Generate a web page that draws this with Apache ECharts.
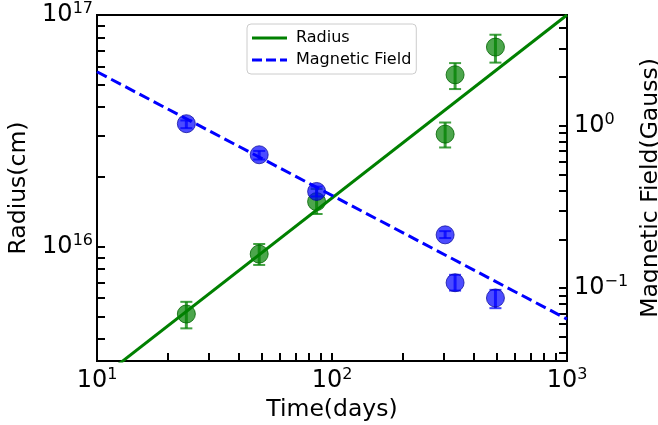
<!DOCTYPE html>
<html><head><meta charset="utf-8">
<script src="https://cdn.jsdelivr.net/npm/echarts@6/dist/echarts.min.js"></script>
<style>html,body{margin:0;padding:0;background:#fff}#c{width:658px;height:425px}</style>
</head><body><div id="c"></div>
<script>
// ---- data ----
const days = [24, 49, 86, 303, 334, 496];
const radius = [5.12e15, 9.29e15, 1.565e16, 3.06e16, 5.52e16, 7.27e16];
const radiusLow = [4.44e15, 8.34e15, 1.384e16, 2.68e16, 4.79e16, 6.23e16];
const radiusHigh = [5.78e15, 1.027e16, 1.775e16, 3.435e16, 6.20e16, 8.22e16];
const field = [1.03, 0.663, 0.394, 0.213, 0.108, 0.087];
const fieldLow = [0.967, 0.62, 0.367, 0.2035, 0.0966, 0.0753];
const fieldHigh = [1.078, 0.70, 0.422, 0.2245, 0.1208, 0.0976];
const radiusFitDays = [10, 1000];
const radiusFit = [2.63e15, 1e17];
const fieldFitDays = [10, 1000];
const fieldFit = [2.15, 0.0645];
const xTicks = [10, 20, 30, 40, 50, 60, 70, 80, 90, 100, 200, 300, 400, 500, 600, 700, 800, 900, 1000];
const xLabels = [10, 100, 1000];
const leftTicks = [4e15, 5e15, 6e15, 7e15, 8e15, 9e15, 1e16, 2e16, 3e16, 4e16, 5e16, 6e16, 7e16, 8e16, 9e16, 1e17];
const leftLabels = [1e16, 1e17];
const rightTicks = [0.04, 0.05, 0.06, 0.07, 0.08, 0.09, 0.1, 0.2, 0.3, 0.4, 0.5, 0.6, 0.7, 0.8, 0.9, 1, 2, 3, 4];
const rightLabels = [0.1, 1];

const FONT = 'DejaVu Sans';
const rich = {
  b: {fontSize: 24, fontFamily: FONT, color: '#000', lineHeight: 28},
  s: {fontSize: 16, fontFamily: FONT, color: '#000', lineHeight: 16, verticalAlign: 'top'}
};
function powLabel(v) {
  const e = Math.round(Math.log10(v));
  return '{b|10}{s|' + (e < 0 ? '\u2212' + (-e) : e) + '}';
}
function errRender(color) {
  return function (params, api) {
    const x = api.value(0), lo = api.value(1), hi = api.value(2);
    const p1 = api.coord([x, lo]);
    const p2 = api.coord([x, hi]);
    const cw = 6;
    return {type: 'group', children: [
      {type: 'line', shape: {x1: p1[0], y1: p1[1], x2: p2[0], y2: p2[1]}, style: {stroke: color, lineWidth: 3}},
      {type: 'line', shape: {x1: p1[0] - cw, y1: p1[1], x2: p1[0] + cw, y2: p1[1]}, style: {stroke: color, lineWidth: 2}},
      {type: 'line', shape: {x1: p2[0] - cw, y1: p2[1], x2: p2[0] + cw, y2: p2[1]}, style: {stroke: color, lineWidth: 2}}
    ]};
  };
}
const tickStyle = {show: true, inside: true, length: 8, lineStyle: {color: '#000', width: 2}};
const TITLE = {fontFamily: FONT, fontSize: 23.5, color: '#000'};
const chart = echarts.init(document.getElementById('c'));
chart.setOption({
  animation: false,
  backgroundColor: '#fff',
  grid: {left: 97, right: 91, top: 15, bottom: 64, containLabel: false, outerBoundsMode: 'none',
         show: true, borderColor: '#000', borderWidth: 2, backgroundColor: 'transparent'},
  legend: {
    data: [
      {name: 'Radius', icon: 'path://M0,0h35v3h-35z', itemStyle: {color: '#008000'}},
      {name: 'Magnetic Field', icon: 'path://M0,0h10v3h-10zM14,0h10v3h-10zM28,0h7v3h-7z', itemStyle: {color: '#0000ff'}}
    ],
    orient: 'vertical', left: 247, top: 24,
    backgroundColor: 'rgba(255,255,255,0.8)', borderColor: '#cccccc', borderWidth: 1, borderRadius: 4,
    padding: [6, 5, 6, 5], itemGap: 6, itemWidth: 35, itemHeight: 3,
    textStyle: {fontFamily: FONT, fontSize: 16, color: '#000', padding: [0, 0, 0, 4]}
  },
  xAxis: {
    type: 'log', logBase: 10, min: 10, max: 1000,
    name: 'Time(days)', nameLocation: 'middle', nameGap: 36,
    nameTextStyle: TITLE,
    axisLine: {show: true, lineStyle: {color: '#000', width: 2}},
    axisTick: Object.assign({customValues: xTicks}, tickStyle),
    minorTick: {show: false},
    splitLine: {show: false},
    axisLabel: {customValues: xLabels, formatter: powLabel, rich: rich, margin: 6}
  },
  yAxis: [{
    type: 'log', logBase: 10, min: 3.21e15, max: 1e17, position: 'left',
    name: 'Radius(cm)', nameLocation: 'middle', nameGap: 66, nameRotate: 90,
    nameTextStyle: TITLE,
    axisLine: {show: true, lineStyle: {color: '#000', width: 2}},
    axisTick: Object.assign({customValues: leftTicks}, tickStyle),
    splitLine: {show: false},
    axisLabel: {customValues: leftLabels, formatter: powLabel, rich: rich, margin: 4}
  }, {
    type: 'log', logBase: 10, min: 0.0356, max: 4.81, position: 'right',
    name: 'Magnetic Field(Gauss)', nameLocation: 'middle', nameGap: 70, nameRotate: 90,
    nameTextStyle: TITLE,
    axisLine: {show: true, lineStyle: {color: '#000', width: 2}},
    axisTick: Object.assign({customValues: rightTicks}, tickStyle),
    splitLine: {show: false},
    axisLabel: {customValues: rightLabels, formatter: powLabel, rich: rich, margin: 7}
  }],
  series: [
    {type: 'custom', name: 'radiusErr', yAxisIndex: 0, z: 2, renderItem: errRender('rgba(0,128,0,0.75)'),
     data: days.map((d, i) => [d, radiusLow[i], radiusHigh[i]])},
    {type: 'scatter', name: 'radiusPts', yAxisIndex: 0, z: 3, symbolSize: 18,
     itemStyle: {color: 'rgba(0,128,0,0.7)', borderColor: 'rgba(0,100,0,0.8)', borderWidth: 1, opacity: 1},
     data: days.map((d, i) => [d, radius[i]])},
    {type: 'line', name: 'Radius', yAxisIndex: 0, z: 4, symbol: 'none', showSymbol: false,
     lineStyle: {color: '#008000', width: 3}, itemStyle: {color: '#008000'},
     data: radiusFitDays.map((d, i) => [d, radiusFit[i]])},
    {type: 'custom', name: 'fieldErr', yAxisIndex: 1, z: 5, renderItem: errRender('rgba(0,0,255,0.75)'),
     data: days.map((d, i) => [d, fieldLow[i], fieldHigh[i]])},
    {type: 'scatter', name: 'fieldPts', yAxisIndex: 1, z: 6, symbolSize: 18,
     itemStyle: {color: 'rgba(0,0,255,0.7)', borderColor: 'rgba(0,0,150,0.7)', borderWidth: 1, opacity: 1},
     data: days.map((d, i) => [d, field[i]])},
    {type: 'line', name: 'Magnetic Field', yAxisIndex: 1, z: 7, symbol: 'none', showSymbol: false,
     lineStyle: {color: '#0000ff', width: 3, type: [11, 5]}, itemStyle: {color: '#0000ff'},
     data: fieldFitDays.map((d, i) => [d, fieldFit[i]])}
  ]
});
</script></body></html>
